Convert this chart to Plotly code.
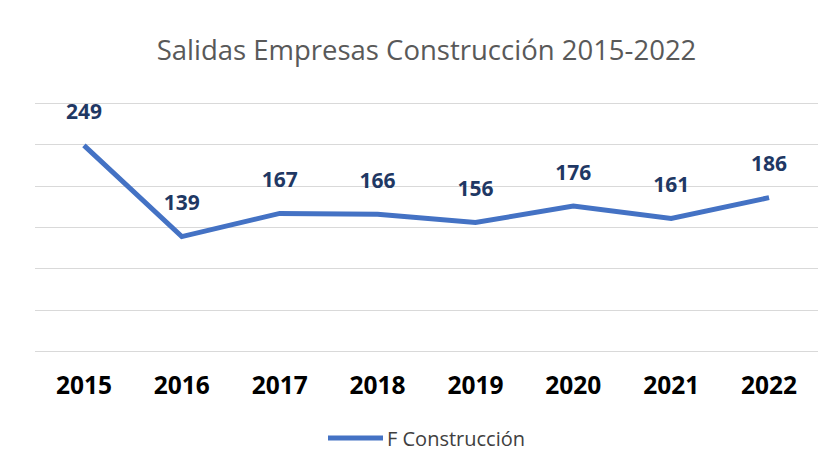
import plotly.graph_objects as go

years = ["2015", "2016", "2017", "2018", "2019", "2020", "2021", "2022"]
values = [249, 139, 167, 166, 156, 176, 161, 186]
series_name = "F Construcción"
title_text = "Salidas Empresas Construcción 2015-2022"

# the page adds an 8px body margin, so the figure is sized/placed accordingly
OFF = 8
W, H = 838 - OFF, 455 - OFF
ml, mr, mt, mb = 27, 20, 91, 99
pw = W - ml - mr
ph = H - mt - mb
LINE_COLOR = "#4472c4"

fig = go.Figure()
fig.add_trace(go.Scatter(
    x=years, y=values, mode="lines", name=series_name,
    line=dict(color=LINE_COLOR, width=5),
    hoverinfo="skip", showlegend=False,
))
# data labels (invisible marker pushes the label above the point)
fig.add_trace(go.Scatter(
    x=years, y=values, mode="markers+text", text=[str(v) for v in values],
    textposition="top center",
    textfont=dict(family="Open Sans", size=21, color="#1f3864", weight="bold"),
    marker=dict(size=32, opacity=0), hoverinfo="skip", showlegend=False,
    cliponaxis=False,
))

# legend (drawn manually to match the long line key)
leg_px = 438 - OFF
leg_y = -(leg_px - (H - mb)) / ph
fig.add_shape(type="line", xref="paper", yref="paper",
              x0=(328 - OFF - ml) / pw, x1=(383 - OFF - ml) / pw, y0=leg_y, y1=leg_y,
              line=dict(color=LINE_COLOR, width=5))
fig.add_annotation(xref="paper", yref="paper", x=(385 - OFF - ml) / pw, y=leg_y,
                   xanchor="left", yanchor="middle", showarrow=False,
                   text=series_name,
                   font=dict(family="Open Sans", size=20, color="#404040"))

fig.update_layout(
    width=W, height=H,
    margin=dict(l=ml, r=mr, t=mt, b=mb, autoexpand=False),
    paper_bgcolor="white", plot_bgcolor="white",
    title=dict(text=title_text, x=0.5, xanchor="center", xref="paper",
               y=1 - (50 - OFF) / H, yanchor="middle",
               font=dict(family="Open Sans", size=27.5, color="#595959")),
    xaxis=dict(type="category", range=[-0.5, 7.5], showgrid=False, showline=False,
               ticks="", automargin=False,
               tickfont=dict(family="Open Sans", size=24.5, color="#000000", weight="bold"),
               ticklabelstandoff=12),
    yaxis=dict(range=[-5, 305], tickvals=[0, 50, 100, 150, 200, 250, 300],
               showgrid=True, gridcolor="#d9d9d9", gridwidth=1, automargin=False,
               showticklabels=False, zeroline=False, showline=False),
    showlegend=False,
)

fig.write_html("out.html")
